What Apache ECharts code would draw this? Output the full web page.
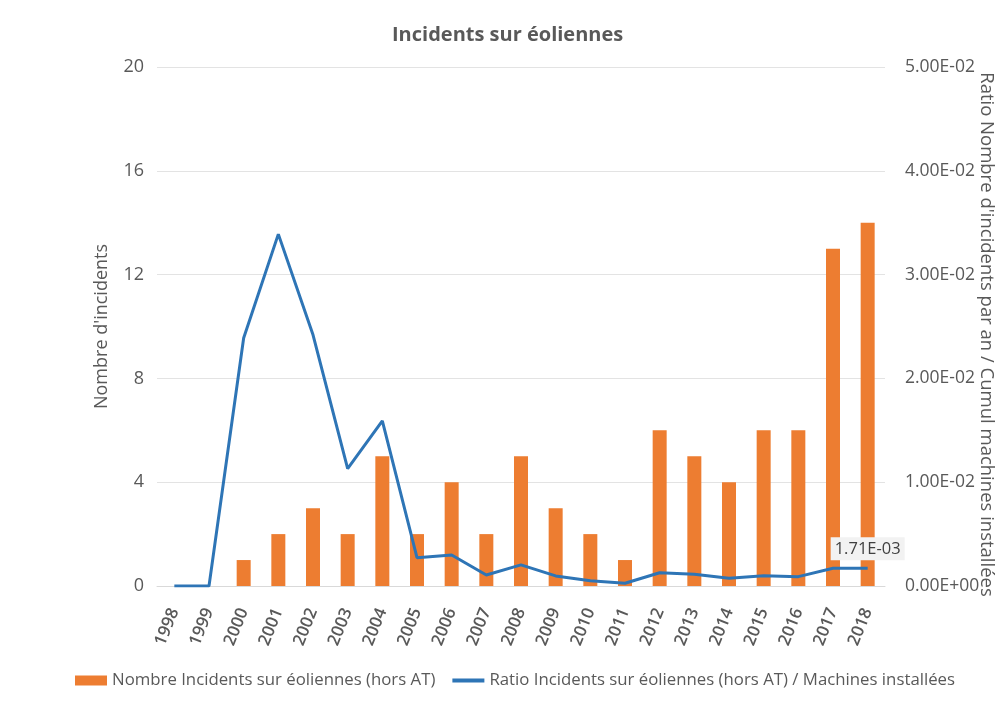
<!DOCTYPE html>
<html>
<head>
<meta charset="utf-8">
<script src="https://cdn.jsdelivr.net/npm/echarts@6/dist/echarts.min.js"></script>
<style>
  html, body { margin: 0; padding: 0; background: #fff; }
  #chart { width: 997px; height: 706px; }
</style>
</head>
<body>
<div id="chart"></div>
<script>
// Years on the category axis
const years = ['1998','1999','2000','2001','2002','2003','2004','2005','2006','2007','2008',
               '2009','2010','2011','2012','2013','2014','2015','2016','2017','2018'];

// Number of incidents per year (left axis)
const incidents = [0, 0, 1, 2, 3, 2, 5, 2, 4, 2, 5, 3, 2, 1, 6, 5, 4, 6, 6, 13, 14];

// Incidents / cumulative installed machines (right axis)
const ratio = [0, 0, 0.0239, 0.0339, 0.0242, 0.0113, 0.0159, 0.00273, 0.00299, 0.00106, 0.00203,
               0.00097, 0.00051, 0.00026, 0.00128, 0.00113, 0.00074, 0.00099, 0.0009, 0.00171, 0.00171];

const leftTicks = { min: 0, max: 20, interval: 4 };
const rightTicks = { min: 0, max: 0.05, interval: 0.01 };

const barName = 'Nombre Incidents sur éoliennes (hors AT)';
const lineName = 'Ratio Incidents sur éoliennes (hors AT) / Machines installées';

const FONT = 'Open Sans';
const GREY = '#595959';
const ORANGE = '#ED7D31';
const BLUE = '#2E75B6';

// Scientific notation with a two-digit exponent, e.g. 1.71E-03
function sci(v) {
  if (v === 0) return '0.00E+00';
  const parts = v.toExponential(2).split('e');
  const sign = parts[1][0];
  const exp = parts[1].slice(1).padStart(2, '0');
  return parts[0] + 'E' + sign + exp;
}

// Only the last point carries a value label
const lastIdx = ratio.length - 1;
const lineData = ratio.map((v, i) => i === lastIdx ? {
  value: v,
  label: {
    show: true, position: 'top', distance: 8,
    formatter: p => sci(p.value),
    fontFamily: FONT, fontSize: 16.5, color: '#404040',
    backgroundColor: '#f2f2f2', padding: [4, 4, 2, 4]
  }
} : v);

const chart = echarts.init(document.getElementById('chart'), null, { renderer: 'canvas' });

chart.setOption({
  animation: false,
  backgroundColor: '#ffffff',
  textStyle: { fontFamily: FONT },
  title: {
    text: 'Incidents sur éoliennes',
    left: 387, top: 20,
    textStyle: { fontFamily: FONT, fontSize: 20, fontWeight: 'bold', color: GREY }
  },
  legend: {
    bottom: 12, left: 70,
    itemWidth: 32, itemHeight: 10, itemGap: 15,
    textStyle: { fontFamily: FONT, fontSize: 16.8, color: GREY },
    data: [
      { name: barName, icon: 'rect' },
      { name: lineName, itemStyle: { opacity: 0 }, lineStyle: { width: 4, color: BLUE } }
    ]
  },
  grid: { left: 157, right: 112, top: 67, bottom: 120, outerBoundsMode: 'none', containLabel: false },
  xAxis: {
    type: 'category',
    data: years,
    axisLine: { show: true, lineStyle: { color: '#d9d9d9', width: 1 } },
    axisTick: { show: false },
    axisLabel: {
      rotate: 68, margin: 23, interval: 0,
      fontFamily: FONT, fontSize: 17, color: GREY, fontWeight: 600
    }
  },
  yAxis: [
    {
      type: 'value',
      min: leftTicks.min, max: leftTicks.max, interval: leftTicks.interval,
      name: "Nombre d'incidents",
      nameLocation: 'middle', nameGap: 46, nameRotate: 90,
      nameMoveOverlap: false,
      nameTextStyle: { fontFamily: FONT, fontSize: 18, color: GREY },
      axisLine: { show: false }, axisTick: { show: false },
      axisLabel: { margin: 13, fontFamily: FONT, fontSize: 18, color: GREY },
      splitLine: { lineStyle: { color: '#e3e3e3', width: 1 } }
    },
    {
      type: 'value',
      min: rightTicks.min, max: rightTicks.max, interval: rightTicks.interval,
      name: "Ratio Nombre d'incidents par an / Cumul machines installées",
      nameLocation: 'middle', nameGap: 92, nameRotate: -90,
      nameMoveOverlap: false,
      nameTextStyle: { fontFamily: FONT, fontSize: 18.5, color: GREY, padding: [0, 0, 0, 16] },
      axisLine: { show: false }, axisTick: { show: false },
      axisLabel: { margin: 20, fontFamily: FONT, fontSize: 17.5, color: GREY, formatter: sci },
      splitLine: { show: false }
    }
  ],
  series: [
    {
      name: barName,
      type: 'bar',
      yAxisIndex: 0,
      data: incidents,
      barWidth: 14,
      itemStyle: { color: ORANGE }
    },
    {
      name: lineName,
      type: 'line',
      yAxisIndex: 1,
      data: lineData,
      symbol: 'circle',
      symbolSize: 0,
      showSymbol: true,
      lineStyle: { color: BLUE, width: 3 },
      itemStyle: { color: BLUE },
      z: 3
    }
  ]
});
</script>
</body>
</html>
